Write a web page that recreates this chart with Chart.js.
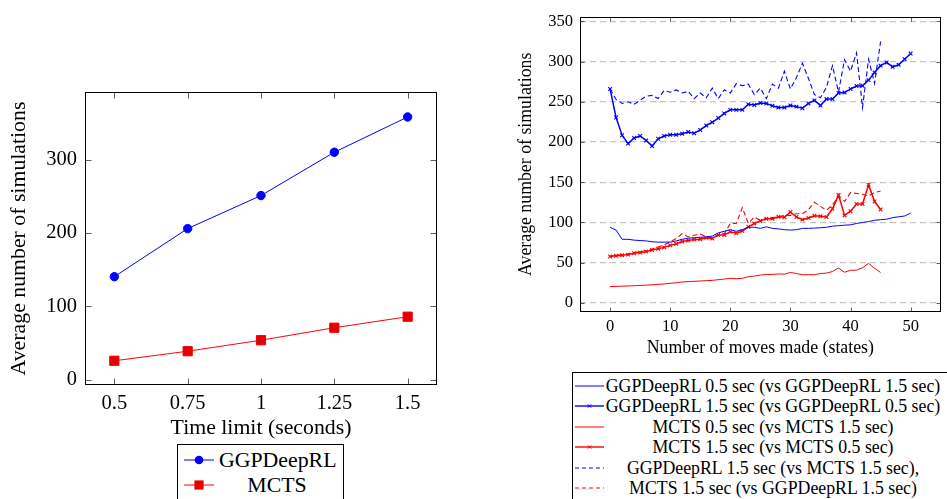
<!DOCTYPE html>
<html><head><meta charset="utf-8">
<script src="https://cdn.jsdelivr.net/npm/chart.js@4.4.1/dist/chart.umd.min.js"></script>
<style>
html,body{margin:0;padding:0;background:#fff;width:947px;height:499px;overflow:hidden;position:relative;font-family:'Liberation Serif',serif;color:#000;}
canvas{position:absolute;}
#c1{left:0;top:0;}
#c2{left:500px;top:0;}
.legend{position:absolute;border:1px solid #000;background:#fff;box-sizing:border-box;}
.item{position:absolute;left:0;width:100%;}
.item svg{position:absolute;top:0;}
.item .txt{position:absolute;top:0;text-align:center;white-space:nowrap;}
</style></head>
<body>
<canvas id="c1" width="470" height="441"></canvas>
<canvas id="c2" width="447" height="370"></canvas>
<div id="leg1" class="legend" style="left:177px;top:444px;width:167px;height:70px;"></div>
<div id="leg2" class="legend" style="left:572px;top:372px;width:420px;height:140px;"></div>
<script>
// ---------- data: left chart ----------
const timeLimits = [0.5, 0.75, 1, 1.25, 1.5];
const timeTickLabels = ['0.5', '0.75', '1', '1.25', '1.5'];
const ggpSims = [140.5, 206, 251, 310, 358];
const mctsSims = [26, 39, 54, 71, 86];
const leftYTicks = [0, 100, 200, 300];
const leftSeriesNames = ['GGPDeepRL', 'MCTS'];

// ---------- data: right chart (x = move index) ----------
const moveTicks = [0, 10, 20, 30, 40, 50];
const rightYTicks = [0, 50, 100, 150, 200, 250, 300, 350];
const ggp05vsGgp15 = [94, 90.5, 79, 79, 78, 77.5, 77, 76, 75.5, 75.5, 75.5, 77, 79, 80.4, 81, 81.6, 82, 83, 87, 89, 91, 89, 91, 94, 94, 92.6, 94.6, 92.6, 92, 91, 90.5, 91, 92.6, 92.6, 93, 93.4, 94, 95.4, 96, 96.6, 97, 98.7, 100, 101, 102.7, 103.5, 104, 106, 107, 108, 111.7];
const ggp15vsGgp05 = [266, 230.5, 208.5, 198, 205, 207.5, 202, 195, 204, 207.5, 209, 209, 210.4, 212.4, 211, 215, 220.5, 224.6, 229.8, 235.5, 240, 240, 240, 247, 246, 248.5, 248, 245, 243, 243, 245.5, 244, 242, 248, 251.8, 245.5, 253.4, 253.4, 261, 261.5, 266, 269.6, 270, 277, 286.5, 295, 299, 293.5, 296, 303, 310];
const mcts05vsMcts15 = [20.3, 20.5, 20.8, 21, 21.3, 21.7, 22, 22.5, 23, 23.5, 24.3, 25, 26, 26.4, 26.8, 27.2, 27.6, 28, 28.8, 29.6, 30.5, 30, 30.5, 32.5, 33.3, 34.5, 35.3, 35.3, 36, 35.7, 37.8, 36.5, 35, 35, 35, 36.5, 37, 39, 43.4, 38, 40.6, 40.6, 43.8, 49, 43, 37.8];
const mcts15vsMcts05 = [57.7, 58.5, 59.3, 60, 61.7, 62.5, 63.7, 65.8, 67.4, 69, 71.5, 73.5, 76.3, 77.5, 78.8, 79, 80.8, 80, 84.5, 84.5, 88.5, 86.5, 89.3, 94.6, 98.7, 102, 104.7, 104.7, 107, 106.4, 113, 106.8, 103.5, 105.6, 108.4, 107.6, 106.8, 117, 134, 108.8, 114, 123, 123, 147, 126, 116];
const ggp15vsMcts15 = [266, 253, 248, 250, 247, 252, 257, 258, 254, 264, 262, 264.8, 261, 263, 254, 261, 255, 267, 254, 265, 261, 272.5, 270, 272, 259, 267, 254, 272, 267, 288, 266, 280, 298, 279, 259, 255, 268, 295, 262, 302.5, 288, 311, 243, 303, 273, 325];
const mcts15vsGgp15 = [58, 59, 60, 61, 62.5, 63.5, 65, 67, 69.5, 72, 76, 80, 86, 82, 84, 85.7, 82, 81, 85, 86, 98.7, 98.7, 118.5, 98.7, 106.8, 102.7, 104.7, 106, 106.8, 108.8, 108.8, 110.8, 110.8, 116, 125, 120, 115, 122, 132.4, 126, 137, 136, 135, 133, 137, 139];
const rightSeriesNames = [
  'GGPDeepRL 0.5 sec (vs GGPDeepRL 1.5 sec)',
  'GGPDeepRL 1.5 sec (vs GGPDeepRL 0.5 sec)',
  'MCTS 0.5 sec (vs MCTS 1.5 sec)',
  'MCTS 1.5 sec (vs MCTS 0.5 sec)',
  'GGPDeepRL 1.5 sec (vs MCTS 1.5 sec),',
  'MCTS 1.5 sec (vs GGPDeepRL 1.5 sec)'
];

// ---------- styling ----------
const BLUE = '#0000ff', RED = '#ff0000';
const SERIF = "'Liberation Serif', 'DejaVu Serif', serif";
const byIndex = arr => arr.map((v, i) => ({x: i, y: v}));

const framePlugin = {
  id: 'frame',
  beforeDatasetsDraw(chart, args, opts) {
    const {ctx, chartArea: a, scales} = chart;
    ctx.save();
    ctx.strokeStyle = '#000';
    ctx.lineWidth = 1;
    const L = Math.round(a.left) + 0.5, R = Math.round(a.right) - 0.5;
    const T = Math.round(a.top) + 0.5, B = Math.round(a.bottom) - 0.5;
    ctx.strokeRect(L, T, R - L, B - T);
    const len = opts.len || 5;
    ctx.strokeStyle = '#333';
    ctx.lineWidth = 0.8;
    ctx.beginPath();
    scales.x.ticks.forEach(t => {
      const p = Math.round(scales.x.getPixelForValue(t.value)) + 0.5;
      ctx.moveTo(p, B); ctx.lineTo(p, B - len);
      ctx.moveTo(p, T); ctx.lineTo(p, T + len);
    });
    scales.y.ticks.forEach(t => {
      const p = Math.round(scales.y.getPixelForValue(t.value)) + 0.5;
      ctx.moveTo(L, p); ctx.lineTo(L + len, p);
      ctx.moveTo(R, p); ctx.lineTo(R - len, p);
    });
    ctx.stroke();
    ctx.restore();
  }
};

Chart.defaults.font.family = SERIF;
Chart.defaults.color = '#000';

// ---------- left chart ----------
new Chart(document.getElementById('c1'), {
  type: 'line',
  data: {
    datasets: [
      {label: leftSeriesNames[0], data: timeLimits.map((t, i) => ({x: t, y: ggpSims[i]})),
       borderColor: BLUE, backgroundColor: BLUE, borderWidth: 1, pointStyle: 'circle', pointRadius: 4.2, pointBorderWidth: 1, tension: 0},
      {label: leftSeriesNames[1], data: timeLimits.map((t, i) => ({x: t, y: mctsSims[i]})),
       borderColor: RED, backgroundColor: '#e80000', pointBorderColor: '#e80000', borderWidth: 1, pointStyle: 'rect', pointRadius: 6.5, pointBorderWidth: 1, tension: 0}
    ]
  },
  options: {
    responsive: false, animation: false, devicePixelRatio: 1,
    layout: {padding: {top: 92, right: 33, left: 0, bottom: 0}},
    plugins: {legend: {display: false}, tooltip: {enabled: false}, frame: {len: 6}},
    scales: {
      x: {
        type: 'linear', min: 0.4, max: 1.6,
        afterBuildTicks: s => { s.ticks = timeLimits.map(v => ({value: v})); },
        grid: {display: false, drawTicks: false}, border: {display: false},
        ticks: {font: {size: 20.5}, color: '#000', padding: 6, maxRotation: 0,
                callback: (v, i) => timeTickLabels[i]},
        title: {display: true, text: 'Time limit (seconds)', font: {size: 21.8}, color: '#000', padding: {top: 0, bottom: 0}},
        afterFit: s => { s.height = 56; }
      },
      y: {
        type: 'linear', min: -7, max: 392,
        afterBuildTicks: s => { s.ticks = leftYTicks.map(v => ({value: v})); },
        grid: {display: false, drawTicks: false}, border: {display: false},
        ticks: {font: {size: 20.5}, color: '#000', padding: 8, callback: v => String(v)},
        title: {display: true, text: 'Average number of simulations', font: {size: 21.8}, color: '#000', padding: {top: 6, bottom: 0}},
        afterFit: s => { s.width = 85; }
      }
    }
  },
  plugins: [framePlugin]
});

// ---------- right chart ----------
new Chart(document.getElementById('c2'), {
  type: 'line',
  data: {
    datasets: [
      {label: rightSeriesNames[0], data: byIndex(ggp05vsGgp15), borderColor: BLUE, borderWidth: 1, pointRadius: 0, tension: 0},
      {label: rightSeriesNames[2], data: byIndex(mcts05vsMcts15), borderColor: RED, borderWidth: 1, pointRadius: 0, tension: 0},
      {label: rightSeriesNames[4], data: byIndex(ggp15vsMcts15), borderColor: BLUE, borderWidth: 1.1, borderDash: [5, 3], pointRadius: 0, tension: 0},
      {label: rightSeriesNames[5], data: byIndex(mcts15vsGgp15), borderColor: RED, borderWidth: 1.1, borderDash: [5, 3], pointRadius: 0, tension: 0},
      {label: rightSeriesNames[1], data: byIndex(ggp15vsGgp05), borderColor: BLUE, borderWidth: 1.5, pointStyle: 'crossRot', pointRadius: 2.6, pointBorderWidth: 1.1, pointBorderColor: BLUE, tension: 0},
      {label: rightSeriesNames[3], data: byIndex(mcts15vsMcts05), borderColor: RED, borderWidth: 1.5, pointStyle: 'crossRot', pointRadius: 2.6, pointBorderWidth: 1.1, pointBorderColor: RED, tension: 0}
    ]
  },
  options: {
    responsive: false, animation: false, devicePixelRatio: 1,
    layout: {padding: {top: 10.7, right: 6.3, left: 0, bottom: 0}},
    plugins: {legend: {display: false}, tooltip: {enabled: false}, frame: {len: 4}},
    scales: {
      x: {
        type: 'linear', min: -5, max: 55,
        afterBuildTicks: s => { s.ticks = moveTicks.map(v => ({value: v})); },
        grid: {display: false, drawTicks: false}, border: {display: false},
        ticks: {font: {size: 16.5}, color: '#000', padding: 5, maxRotation: 0, callback: v => String(v)},
        title: {display: true, text: 'Number of moves made (states)', font: {size: 17.8}, color: '#000', padding: {top: 0, bottom: 11}},
        afterFit: s => { s.height = 58.3; }
      },
      y: {
        type: 'linear', min: -11, max: 355.6,
        afterBuildTicks: s => { s.ticks = rightYTicks.map(v => ({value: v})); },
        grid: {display: true, drawTicks: false, color: '#c4c4c4', lineWidth: 1.2},
        border: {display: false, dash: [6, 4]},
        ticks: {font: {size: 16.5}, color: '#000', padding: 7, callback: v => String(v)},
        title: {display: true, text: 'Average number of simulations', font: {size: 17.8}, color: '#000', padding: {top: 16, bottom: 0}},
        afterFit: s => { s.width = 80; }
      }
    }
  },
  plugins: [framePlugin]
});

// ---------- HTML legends ----------
function sampleSvg(w, color, dash, marker, lw) {
  let s = `<svg width="${w}" height="14" viewBox="0 0 ${w} 14">`;
  s += `<line x1="0" y1="7" x2="${w}" y2="7" stroke="${color}" stroke-width="${lw}" ${dash ? `stroke-dasharray="${dash}"` : ''}/>`;
  const c = w / 2;
  if (marker === 'circle') s += `<circle cx="${c}" cy="7" r="4.3" fill="${color}"/>`;
  if (marker === 'rect') s += `<rect x="${c - 4.6}" y="2.4" width="9.2" height="9.2" fill="#e80000"/>`;
  if (marker === 'x') s += `<path d="M${c - 1.7} 5.3 L${c + 1.7} 8.7 M${c + 1.7} 5.3 L${c - 1.7} 8.7" stroke="${color}" stroke-width="1"/>`;
  return s + '</svg>';
}
function buildLegend(el, items, cfg) {
  items.forEach((it, i) => {
    const row = document.createElement('div');
    row.className = 'item';
    const cy = cfg.firstY + i * cfg.step;
    row.style.top = (cy - 7) + 'px';
    row.style.height = '14px';
    row.innerHTML = `<span style="position:absolute;left:${cfg.sx}px;top:0">${sampleSvg(cfg.sw, it.color, it.dash, it.marker, it.lw)}</span>` +
      `<div class="txt" style="left:${cfg.tx}px;width:${cfg.tw}px;font-size:${cfg.fs}px;line-height:14px;">${it.label}</div>`;
    el.appendChild(row);
  });
}
buildLegend(document.getElementById('leg1'), [
  {label: leftSeriesNames[0], color: BLUE, marker: 'circle', lw: 1},
  {label: leftSeriesNames[1], color: RED, marker: 'rect', lw: 1}
], {firstY: 15, step: 25, sx: 6, sw: 30, tx: 41, tw: 116, fs: 21.8});
buildLegend(document.getElementById('leg2'), [
  {label: rightSeriesNames[0], color: BLUE, lw: 1},
  {label: rightSeriesNames[1], color: BLUE, marker: 'x', lw: 1.4},
  {label: rightSeriesNames[2], color: RED, lw: 1},
  {label: rightSeriesNames[3], color: RED, marker: 'x', lw: 1.4},
  {label: rightSeriesNames[4], color: BLUE, dash: '4 3', lw: 1.1},
  {label: rightSeriesNames[5], color: RED, dash: '4 3', lw: 1.1}
], {firstY: 12.5, step: 20.5, sx: 2, sw: 29, tx: 32, tw: 336, fs: 17.8});
</script>
</body></html>
